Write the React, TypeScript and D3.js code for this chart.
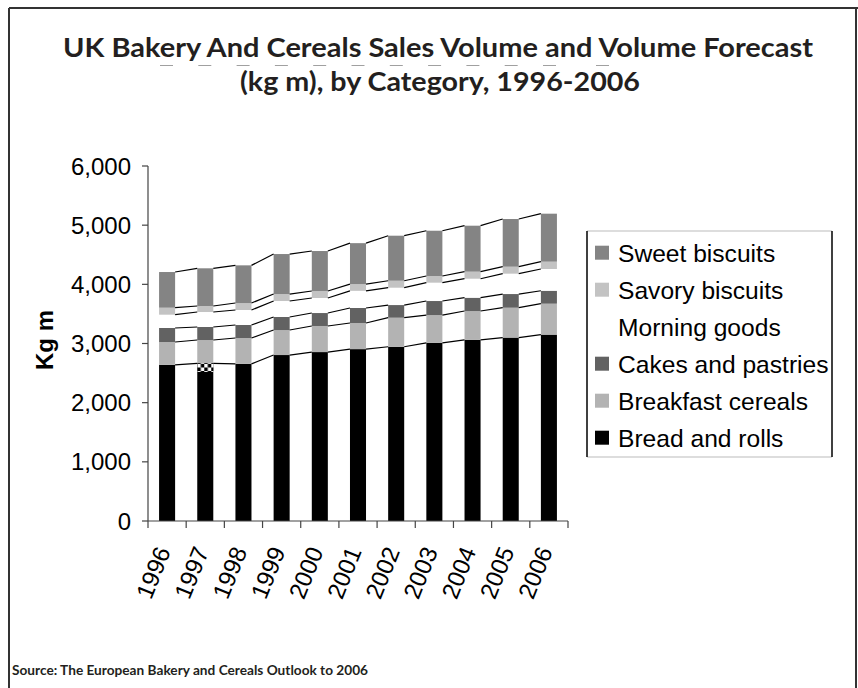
import React from "react";
import * as d3 from "d3";

const years = ["1996", "1997", "1998", "1999", "2000", "2001", "2002", "2003", "2004", "2005", "2006"];
const breadAndRolls = [2640, 2665, 2655, 2805, 2855, 2905, 2945, 3010, 3060, 3100, 3150];
const breakfastCereals = [385, 394, 438, 423, 441, 441, 491, 471, 489, 505, 523];
const cakesAndPastries = [237, 220, 220, 220, 219, 254, 214, 237, 225, 231, 219];
const morningGoods = [225, 253, 253, 270, 254, 290, 293, 310, 321, 344, 367];
const savoryBiscuits = [118, 102, 118, 118, 118, 113, 118, 113, 119, 118, 124];
const sweetBiscuits = [603, 637, 637, 676, 676, 693, 761, 765, 777, 806, 811];
// 1997 bread bar: the solid part ends here, the rest is drawn checkered
const bread1997Solid = 2520;
const yTicks = [0, 1000, 2000, 3000, 4000, 5000, 6000];

const seriesNames = ["Bread and rolls", "Breakfast cereals", "Cakes and pastries", "Morning goods", "Savory biscuits", "Sweet biscuits"];
const seriesValues = [breadAndRolls, breakfastCereals, cakesAndPastries, morningGoods, savoryBiscuits, sweetBiscuits];
const seriesColors = ["#000000", "#b3b3b3", "#626262", "#ffffff", "#c3c3c3", "#848484"];

const W = 858;
const H = 688;
const X0 = 148, X1 = 568, Y0 = 521, Y1 = 166;

export default function App() {
  const x = d3.scaleBand<string>().domain(years).range([X0, X1]).paddingInner(0.58).paddingOuter(0.29);
  const y = d3.scaleLinear().domain([0, 6000]).range([Y0, Y1]);
  const step = x.step();
  const bw = x.bandwidth();
  const fmt = d3.format(",");

  const rows = years.map((yr, i) => {
    const o: any = { year: yr };
    seriesNames.forEach((s, k) => (o[s] = seriesValues[k][i]));
    return o;
  });
  const stacked = d3.stack<any>().keys(seriesNames)(rows);

  const axisFont = "'Liberation Sans', Arial, sans-serif";
  const titleFont = "Lato, 'Open Sans', sans-serif";

  const legendOrder = [5, 4, 3, 2, 1, 0];

  const dashStarts = [...d3.range(0, 11).map((i) => 160 + i * 38.3), 596];

  return (
    <svg width={W} height={H} style={{ position: "absolute", left: 0, top: 0, background: "#fff" }}>
      <defs>
        <pattern id="chk" width="7" height="7" patternUnits="userSpaceOnUse" x={x("1997")} y={0}>
          <rect width="7" height="7" fill="#fff" />
          <rect x="3.5" y="0" width="3.5" height="3.5" fill="#000" />
          <rect x="0" y="3.5" width="3.5" height="3.5" fill="#000" />
        </pattern>
      </defs>
      <rect x={0} y={0} width={W} height={H} fill="#fff" />
      {/* frame */}
      <line x1={9} y1={8} x2={W} y2={8} stroke="#333" strokeWidth={2} />
      <line x1={9} y1={8} x2={9} y2={H} stroke="#333" strokeWidth={2} />
      <line x1={856} y1={8} x2={856} y2={H} stroke="#333" strokeWidth={2} />

      {/* title */}
      <text x={438} y={57} textAnchor="middle" fontFamily={titleFont} fontWeight={700} fontSize={27} fill="#231f20" textLength={750} lengthAdjust="spacingAndGlyphs">
        UK Bakery And Cereals Sales Volume and Volume Forecast
      </text>
      {dashStarts.map((d, i) => (
        <line key={i} x1={d} x2={d + 13} y1={65.5} y2={65.5} stroke="#a0a0a0" strokeWidth={1} />
      ))}
      <text x={440} y={91} textAnchor="middle" fontFamily={titleFont} fontWeight={700} fontSize={27} fill="#231f20" textLength={400} lengthAdjust="spacingAndGlyphs">
        (kg m), by Category, 1996-2006
      </text>

      {/* bars */}
      {stacked.map((layer, k) => (
        <g key={k}>
          {layer.map((d, i) => (
            <rect key={i} x={x(years[i])} y={y(d[1])} width={bw} height={y(d[0]) - y(d[1])} fill={seriesColors[k]} />
          ))}
        </g>
      ))}
      {/* checkered part of 1997 bread bar */}
      <rect x={x("1997")} y={y(breadAndRolls[1])} width={bw} height={y(bread1997Solid) - y(breadAndRolls[1])} fill="url(#chk)" />

      {/* series lines */}
      {stacked.map((layer, k) => (
        <g key={"sl" + k}>
          {layer.slice(0, -1).map((d, i) => (
            <line key={i} x1={(x(years[i]) as number) + bw} y1={y(d[1])} x2={x(years[i + 1]) as number} y2={y(layer[i + 1][1])} stroke="#000" strokeWidth={1.2} />
          ))}
        </g>
      ))}

      {/* y axis */}
      <line x1={X0} x2={X0} y1={Y1} y2={Y0} stroke="#444" strokeWidth={1.2} />
      {yTicks.map((t) => (
        <g key={t}>
          <line x1={X0 - 6} x2={X0} y1={y(t)} y2={y(t)} stroke="#444" strokeWidth={1.2} />
          <text x={131} y={y(t) + 8.5} textAnchor="end" fontFamily={axisFont} fontSize={24} fill="#000">
            {fmt(t)}
          </text>
        </g>
      ))}
      <text transform={`translate(53,340) rotate(-90)`} textAnchor="middle" fontFamily={axisFont} fontWeight={700} fontSize={24} fill="#000">
        Kg m
      </text>

      {/* x axis */}
      <line x1={X0} x2={X1} y1={Y0} y2={Y0} stroke="#444" strokeWidth={1.2} />
      {d3.range(0, years.length + 1).map((i) => (
        <line key={i} x1={X0 + i * step} x2={X0 + i * step} y1={Y0} y2={Y0 + 7} stroke="#444" strokeWidth={1.2} />
      ))}
      {years.map((yr) => {
        const cx = (x(yr) as number) + bw / 2 + 4;
        return (
          <text key={yr} transform={`translate(${cx},551) rotate(-68)`} textAnchor="end" fontFamily={axisFont} fontSize={24} fill="#000">
            {yr}
          </text>
        );
      })}

      {/* legend */}
      <line x1={587} x2={832} y1={231} y2={231} stroke="#bbb" strokeWidth={1} />
      <line x1={587} x2={832} y1={457} y2={457} stroke="#bbb" strokeWidth={1} />
      <line x1={587} x2={587} y1={231} y2={457} stroke="#000" strokeWidth={1.5} />
      <line x1={832} x2={832} y1={231} y2={457} stroke="#000" strokeWidth={1.5} />
      {legendOrder.map((k, j) => {
        const by = 261.7 + j * 37;
        return (
          <g key={k}>
            <rect x={595} y={by - 16} width={14} height={14} fill={seriesColors[k]} />
            <text x={618} y={by} fontFamily={axisFont} fontSize={24.6} fill="#000">
              {seriesNames[k]}
            </text>
          </g>
        );
      })}

      {/* source */}
      <text x={12} y={675} fontFamily={titleFont} fontWeight={700} fontSize={12.5} fill="#231f20" textLength={356} lengthAdjust="spacingAndGlyphs">
        Source: The European Bakery and Cereals Outlook to 2006
      </text>
    </svg>
  );
}
